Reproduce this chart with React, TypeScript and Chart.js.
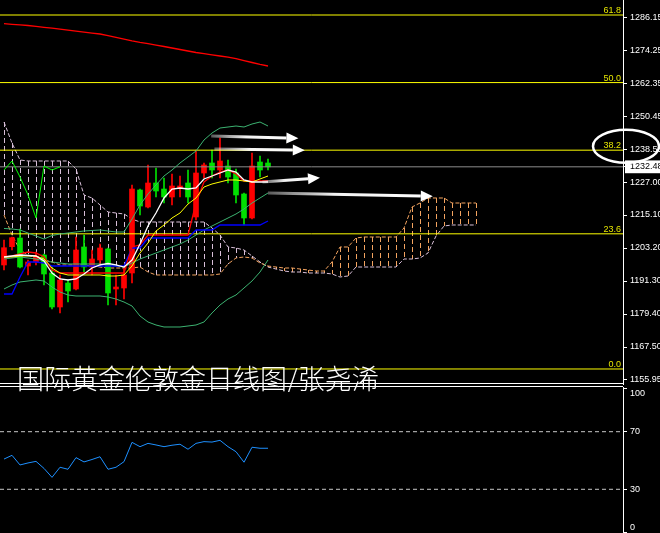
import { useEffect, useRef } from 'react';
import { Chart, registerables } from 'chart.js';

Chart.register(...registerables);

// ---------------- data (daily gold candles) ----------------
const opens = [1197.08, 1203.68, 1206.81, 1196.71, 1198.16, 1200.68, 1194.19, 1181.93, 1190.58, 1188.42, 1203.57, 1196.35, 1198.88, 1202.85, 1188.42, 1188.78, 1194.19, 1224.12, 1217.99, 1226.65, 1224.48, 1221.60, 1224.84, 1226.65, 1214.39, 1230.25, 1233.86, 1231.33, 1232.78, 1230.25, 1222.68, 1214.03, 1234.22, 1233.86];
const highs = [1206.09, 1207.17, 1210.06, 1198.88, 1201.76, 1201.04, 1196.35, 1193.47, 1191.67, 1207.17, 1207.89, 1202.48, 1204.65, 1203.21, 1193.47, 1195.99, 1225.93, 1224.48, 1233.14, 1232.06, 1228.45, 1229.89, 1229.17, 1231.33, 1238.55, 1233.86, 1238.55, 1242.87, 1234.94, 1231.69, 1223.04, 1237.47, 1236.38, 1235.30];
const lows = [1195.27, 1202.48, 1195.99, 1193.47, 1197.08, 1189.86, 1181.21, 1179.76, 1183.73, 1188.06, 1194.55, 1193.47, 1197.08, 1182.65, 1182.65, 1184.81, 1190.58, 1215.11, 1217.63, 1221.60, 1219.43, 1218.71, 1221.60, 1219.43, 1213.30, 1228.45, 1228.45, 1228.45, 1226.65, 1219.43, 1211.50, 1213.66, 1228.81, 1231.33];
const closes = [1203.31, 1206.92, 1196.35, 1198.16, 1200.32, 1193.83, 1181.93, 1191.67, 1187.70, 1202.48, 1196.35, 1199.24, 1203.21, 1186.98, 1189.14, 1193.47, 1224.48, 1218.35, 1226.65, 1223.76, 1221.60, 1225.57, 1225.57, 1221.60, 1230.25, 1233.14, 1231.33, 1234.58, 1228.81, 1222.32, 1214.03, 1232.78, 1231.33, 1232.48];

const maLong = [1284.13, 1283.88, 1283.66, 1283.44, 1283.12, 1282.79, 1282.47, 1282.11, 1281.79, 1281.42, 1281.03, 1280.70, 1280.38, 1279.77, 1279.15, 1278.54, 1277.93, 1277.39, 1276.92, 1276.38, 1275.87, 1275.33, 1274.79, 1274.25, 1273.71, 1273.31, 1272.88, 1272.45, 1272.01, 1271.47, 1270.79, 1270.10, 1269.42, 1268.84];
const bbUpper = [1210.24, 1210.06, 1209.70, 1208.62, 1207.53, 1206.45, 1207.71, 1208.25, 1208.62, 1208.98, 1209.34, 1209.52, 1209.70, 1209.34, 1208.98, 1208.98, 1213.66, 1218.71, 1222.68, 1225.93, 1229.17, 1231.33, 1233.86, 1236.02, 1238.19, 1242.15, 1244.68, 1246.48, 1246.84, 1247.20, 1246.84, 1247.92, 1248.64, 1247.20];
const bbMiddle = [1199.24, 1199.60, 1199.96, 1199.60, 1199.24, 1198.52, 1198.16, 1197.80, 1197.44, 1197.44, 1197.44, 1197.44, 1197.44, 1197.08, 1196.72, 1196.35, 1197.80, 1199.24, 1200.32, 1201.40, 1202.48, 1203.57, 1204.65, 1206.09, 1207.89, 1209.70, 1211.14, 1212.58, 1214.02, 1215.47, 1217.27, 1219.43, 1221.24, 1223.04];
const bbLower = [1188.42, 1189.86, 1190.95, 1191.31, 1191.67, 1191.31, 1189.14, 1187.34, 1186.26, 1185.90, 1185.90, 1185.90, 1185.90, 1185.54, 1184.81, 1183.73, 1182.29, 1178.68, 1176.52, 1175.44, 1174.72, 1174.72, 1174.72, 1175.08, 1175.44, 1176.52, 1179.77, 1182.65, 1184.81, 1186.26, 1188.78, 1191.31, 1194.55, 1198.88];
const maWhite = [1199.96, 1200.32, 1200.68, 1200.50, 1200.32, 1198.52, 1194.19, 1192.03, 1191.67, 1192.03, 1193.83, 1195.99, 1197.08, 1197.62, 1197.08, 1196.35, 1198.88, 1204.65, 1211.14, 1215.83, 1221.24, 1224.48, 1224.84, 1224.48, 1224.84, 1228.09, 1229.17, 1230.25, 1231.33, 1230.61, 1227.73, 1227.01, 1227.01, 1227.01];
const maYellow = [1199.96, 1199.96, 1200.32, 1200.32, 1200.32, 1199.24, 1195.99, 1194.19, 1193.47, 1193.47, 1193.47, 1193.47, 1193.47, 1193.11, 1193.11, 1193.47, 1196.72, 1201.40, 1205.01, 1209.34, 1211.50, 1214.02, 1215.83, 1219.07, 1221.24, 1225.20, 1226.29, 1227.01, 1227.73, 1227.73, 1227.37, 1227.01, 1228.09, 1229.17];
const tenkanRed = [1199.96, 1200.32, 1201.04, 1201.76, 1201.40, 1199.96, 1195.27, 1194.19, 1194.19, 1194.19, 1194.19, 1194.19, 1194.19, 1194.19, 1194.19, 1194.19, 1203.57, 1204.29, 1207.89, 1207.89, 1207.89, 1207.89, 1207.89, 1207.89, 1219.43, 1227.01, 1229.17, 1230.61, 1231.33, 1229.89, 1227.37, 1227.37, 1227.37, 1227.37];
const kijunBlue = [1186.62, 1186.62, 1192.75, 1198.16, 1198.16, 1197.80, 1196.72, 1196.72, 1196.72, 1196.72, 1196.72, 1196.72, 1196.72, 1196.72, 1196.72, 1196.72, 1203.21, 1203.21, 1206.81, 1206.81, 1206.81, 1206.81, 1206.81, 1206.81, 1209.70, 1209.70, 1209.70, 1211.50, 1211.50, 1211.50, 1211.50, 1211.50, 1211.50, 1212.94];
const senkouA = [1215.11, 1207.89, 1202.48, 1200.68, 1199.60, 1198.88, 1198.16, 1197.08, 1197.08, 1197.08, 1197.08, 1196.71, 1196.35, 1195.99, 1195.99, 1195.99, 1195.99, 1196.35, 1194.55, 1193.47, 1193.47, 1193.47, 1193.47, 1193.47, 1193.47, 1193.47, 1193.47, 1193.83, 1197.44, 1199.60, 1199.96, 1199.60, 1197.80, 1196.71, 1196.35, 1195.99, 1195.99, 1195.63, 1195.27, 1194.91, 1194.91, 1198.16, 1203.57, 1203.57, 1206.81, 1207.17, 1207.17, 1207.17, 1207.17, 1207.17, 1210.42, 1217.99, 1219.43, 1221.24, 1221.24, 1221.24, 1219.43, 1219.43, 1219.43, 1219.43];
const senkouB = [1248.64, 1241.07, 1234.94, 1234.58, 1234.58, 1234.58, 1234.58, 1234.58, 1234.58, 1231.69, 1222.32, 1221.24, 1218.71, 1216.19, 1215.83, 1215.47, 1213.66, 1212.58, 1212.58, 1212.58, 1212.58, 1212.58, 1212.58, 1212.58, 1212.58, 1212.58, 1210.42, 1207.89, 1203.57, 1203.21, 1202.48, 1200.32, 1198.16, 1196.35, 1195.63, 1194.91, 1194.55, 1194.55, 1194.19, 1194.19, 1194.19, 1193.83, 1192.75, 1193.11, 1196.35, 1196.35, 1196.35, 1196.35, 1196.35, 1196.35, 1199.24, 1199.24, 1199.60, 1201.40, 1207.53, 1211.14, 1211.50, 1211.50, 1211.50, 1211.50];
const chikouShift = 26;

const rsiValues = [51.0, 53.6, 46.9, 48.3, 49.4, 44.5, 38.3, 45.3, 43.9, 52.0, 49.0, 50.7, 52.6, 43.9, 45.3, 49.2, 62.6, 59.6, 61.9, 60.8, 59.6, 60.6, 61.3, 57.8, 61.9, 63.1, 62.8, 64.0, 59.6, 56.1, 48.8, 59.2, 58.5, 58.5];
const rsiLevels = [70, 30];
const rsiTicks = [0, 30, 70, 100];

const fibLow = 1159.57;
const fibHigh = 1366.14;
const fibLevels = [0, 23.6, 38.2, 50.0, 61.8];
const lastPrice = 1232.48;
const priceTicks = [1286.15, 1274.25, 1262.35, 1250.45, 1238.55, 1227.0, 1215.1, 1203.2, 1191.3, 1179.4, 1167.5, 1155.95];

// hand-drawn arrows: [fromBar, fromPrice, toBar, toPrice]
const arrowFromBar = [25.9, 26.3, 32.3, 33.0];
const arrowFromPrice = [1243.6, 1238.9, 1227.0, 1223.0];
const arrowToBar = [36.8, 37.6, 39.5, 53.6];
const arrowToPrice = [1242.8, 1238.5, 1228.5, 1221.9];

const titleText = '国际黄金伦敦金日线图/张尧浠';

// ---------------- styles ----------------
const X_MIN = -0.5;
const X_MAX = 77.375;
const UP = '#FF0000';
const DOWN = '#00E000';
const SANDY = '#F4A460';
const THISTLE = '#D8BFD8';
const BB = '#3CB371';
const FONT = '"Liberation Sans", Arial, sans-serif';

const pts = (arr: number[], start = 0) => arr.map((v, i) => ({ x: i + start, y: v }));
const hline = (v: number) => [{ x: X_MIN, y: v }, { x: X_MAX, y: v }];
const fibPrice = (lvl: number) => fibLow + (fibHigh - fibLow) * lvl / 100;

function drawArrow(ctx: CanvasRenderingContext2D, x1: number, y1: number, x2: number, y2: number) {
  const ang = Math.atan2(y2 - y1, x2 - x1);
  const head = 12, hw = 5.5;
  const bx = x2 - head * Math.cos(ang), by = y2 - head * Math.sin(ang);
  const g = ctx.createLinearGradient(x1, y1, x2, y2);
  g.addColorStop(0, 'rgba(255,255,255,0.35)');
  g.addColorStop(0.4, 'rgba(255,255,255,0.95)');
  g.addColorStop(1, '#ffffff');
  ctx.strokeStyle = g;
  ctx.lineWidth = 3;
  ctx.beginPath();
  ctx.moveTo(x1, y1);
  ctx.lineTo(bx, by);
  ctx.stroke();
  ctx.fillStyle = '#ffffff';
  ctx.beginPath();
  ctx.moveTo(x2, y2);
  ctx.lineTo(bx - hw * Math.sin(ang), by + hw * Math.cos(ang));
  ctx.lineTo(bx + hw * Math.sin(ang), by - hw * Math.cos(ang));
  ctx.closePath();
  ctx.fill();
}

const mainDecor = {
  id: 'mainDecor',
  beforeDatasetsDraw(chart: any) {
    const { ctx, chartArea, scales } = chart;
    const x = scales.x, y = scales.y;
    ctx.save();
    ctx.beginPath();
    ctx.rect(chartArea.left, chartArea.top, chartArea.width, chartArea.height);
    ctx.clip();
    ctx.lineWidth = 1;
    ctx.setLineDash([5, 3]);
    for (let i = 0; i < senkouA.length; i++) {
      const px = Math.round(x.getPixelForValue(i)) + 0.5;
      const ya = y.getPixelForValue(senkouA[i]);
      const yb = y.getPixelForValue(senkouB[i]);
      ctx.strokeStyle = senkouA[i] >= senkouB[i] ? SANDY : THISTLE;
      ctx.beginPath();
      ctx.moveTo(px, Math.min(ya, yb));
      ctx.lineTo(px, Math.max(ya, yb));
      ctx.stroke();
    }
    ctx.restore();
  },
  afterDatasetsDraw(chart: any) {
    const { ctx, chartArea, scales } = chart;
    const x = scales.x, y = scales.y;
    ctx.save();
    // fib labels
    ctx.font = '9px ' + FONT;
    ctx.fillStyle = '#E6E600';
    ctx.textAlign = 'right';
    ctx.textBaseline = 'alphabetic';
    fibLevels.forEach((l) => {
      ctx.fillText(l.toFixed(1), chartArea.right - 2, Math.round(y.getPixelForValue(fibPrice(l))) - 2);
    });
    // arrows
    for (let i = 0; i < arrowFromBar.length; i++) {
      drawArrow(ctx, x.getPixelForValue(arrowFromBar[i]), y.getPixelForValue(arrowFromPrice[i]),
        x.getPixelForValue(arrowToBar[i]), y.getPixelForValue(arrowToPrice[i]));
    }
    // title text
    ctx.font = '300 27px "Noto Sans CJK SC", sans-serif';
    ctx.fillStyle = '#ffffff';
    ctx.textAlign = 'left';
    ctx.textBaseline = 'middle';
    ctx.fillText(titleText, 17, chartArea.bottom - 5);
    ctx.restore();
  },
  afterDraw(chart: any) {
    const { ctx, chartArea, scales } = chart;
    const y = scales.y;
    ctx.save();
    // panel bottom border
    ctx.strokeStyle = '#ffffff';
    ctx.lineWidth = 1;
    ctx.beginPath();
    ctx.moveTo(0, chartArea.bottom - 0.5);
    ctx.lineTo(chartArea.right, chartArea.bottom - 0.5);
    ctx.stroke();
    // ellipse around the 38.2 label
    const cy = y.getPixelForValue(fibPrice(38.2)) - 4;
    ctx.lineWidth = 2.5;
    ctx.beginPath();
    ctx.ellipse(chartArea.right + 3, cy, 33, 16.5, 0, 0, Math.PI * 2);
    ctx.stroke();
    ctx.restore();
  },
};

const rsiDecor = {
  id: 'rsiDecor',
  afterDraw(chart: any) {
    const { ctx, chartArea } = chart;
    ctx.save();
    ctx.strokeStyle = '#ffffff';
    ctx.lineWidth = 1;
    ctx.beginPath();
    ctx.moveTo(0, 0.5);
    ctx.lineTo(chartArea.right, 0.5);
    ctx.stroke();
    ctx.restore();
  },
};

const axisFit = (s: any) => {
  s.width = 37;
  s.paddingTop = 0;
  s.paddingBottom = 0;
};

export default function App() {
  const mainRef = useRef<HTMLCanvasElement>(null);
  const rsiRef = useRef<HTMLCanvasElement>(null);

  useEffect(() => {
    const candleColors = closes.map((c, i) => (c >= opens[i] ? UP : DOWN));
    const line = (data: any[], color: string, order: number, extra: any = {}) => ({
      type: 'line', data, borderColor: color, borderWidth: 1, pointRadius: 0, tension: 0, fill: false, order, ...extra,
    });

    const datasets: any[] = [
      line(pts(senkouA), SANDY, 20, { borderDash: [4, 2] }),
      line(pts(senkouB), THISTLE, 20, { borderDash: [4, 2] }),
      {
        type: 'bar', data: highs.map((h, i) => ({ x: i, y: [lows[i], h] })),
        backgroundColor: candleColors, barThickness: 1, grouped: false, order: 15, borderWidth: 0,
      },
      {
        type: 'bar', data: opens.map((o, i) => ({ x: i, y: [o, closes[i]] })),
        backgroundColor: candleColors, barThickness: 5, grouped: false, order: 14, borderWidth: 0,
      },
      ...fibLevels.map((l) => line(hline(fibPrice(l)), '#FFFF00', 12)),
      line(hline(lastPrice), '#8C8C8C', 13),
      line(pts(maLong), '#FF0000', 10, { borderWidth: 1.3 }),
      line(pts(bbUpper), BB, 9),
      line(pts(bbMiddle), BB, 9),
      line(pts(bbLower), BB, 9),
      line(pts(kijunBlue), '#0000FF', 8, { borderWidth: 1.3 }),
      line(pts(tenkanRed), '#FF0000', 7, { borderWidth: 1.3 }),
      line(pts(maYellow), '#FFFF00', 6),
      line(pts(maWhite), '#FFFFFF', 5, { borderWidth: 1.3 }),
      line(pts(closes.slice(chikouShift)), '#00FF00', 4),
    ];

    const xScale = { type: 'linear', min: X_MIN, max: X_MAX, display: false, offset: false };

    const main = new Chart(mainRef.current as HTMLCanvasElement, {
      type: 'bar',
      data: { datasets },
      options: {
        animation: false,
        responsive: false,
        maintainAspectRatio: false,
        events: [],
        layout: { padding: { top: 0, bottom: 8, left: 0, right: 0 } },
        plugins: { legend: { display: false }, tooltip: { enabled: false } },
        scales: {
          x: xScale,
          y: {
            type: 'linear',
            position: 'right',
            min: 1154.16,
            max: 1292.64,
            afterFit: axisFit,
            afterBuildTicks: (s: any) => { s.ticks = [...priceTicks, lastPrice].map((v) => ({ value: v })); },
            grid: { display: true, drawOnChartArea: false, drawTicks: true, tickLength: 4, color: '#ffffff' },
            border: { display: true, color: '#ffffff', width: 1 },
            ticks: {
              autoSkip: false,
              padding: 3,
              font: { family: FONT, size: 9 },
              callback: (v: any) => Number(v).toFixed(2),
              color: (c: any) => (c.tick && c.tick.value === lastPrice ? '#000000' : '#ffffff'),
              showLabelBackdrop: (c: any) => !!(c.tick && c.tick.value === lastPrice),
              backdropColor: '#ffffff',
              backdropPadding: { top: 1, bottom: 1, left: 5, right: 10 },
            },
          },
        },
      } as any,
      plugins: [mainDecor],
    } as any);

    const rsi = new Chart(rsiRef.current as HTMLCanvasElement, {
      type: 'line',
      data: {
        datasets: [
          ...rsiLevels.map((l) => line(hline(l), '#C8C8C8', 5, { borderDash: [4, 3] })),
          line(pts(rsiValues), '#1E90FF', 1),
        ],
      },
      options: {
        animation: false,
        responsive: false,
        maintainAspectRatio: false,
        events: [],
        layout: { padding: { top: 1, bottom: 0, left: 0, right: 0 } },
        plugins: { legend: { display: false }, tooltip: { enabled: false } },
        scales: {
          x: xScale,
          y: {
            type: 'linear',
            position: 'right',
            min: -0.35,
            max: 101.04,
            afterFit: axisFit,
            afterBuildTicks: (s: any) => { s.ticks = rsiTicks.map((v) => ({ value: v })); },
            grid: { display: true, drawOnChartArea: false, drawTicks: true, tickLength: 4, color: '#ffffff' },
            border: { display: true, color: '#ffffff', width: 1 },
            ticks: {
              autoSkip: false,
              padding: 3,
              color: '#ffffff',
              font: { family: FONT, size: 9, lineHeight: 1.1 },
              callback: (v: any) => (v === 100 ? ['', '100'] : v === 0 ? ['0', ''] : String(v)),
            },
          },
        },
      } as any,
      plugins: [rsiDecor],
    } as any);

    return () => {
      main.destroy();
      rsi.destroy();
    };
  }, []);

  return (
    <div style={{ position: 'absolute', left: 0, top: 0, width: 660, height: 533, background: '#000', overflow: 'hidden' }}>
      <canvas ref={mainRef} width={660} height={392} style={{ position: 'absolute', left: 0, top: 0, width: 660, height: 392 }} />
      <canvas ref={rsiRef} width={660} height={147} style={{ position: 'absolute', left: 0, top: 386, width: 660, height: 147 }} />
    </div>
  );
}
